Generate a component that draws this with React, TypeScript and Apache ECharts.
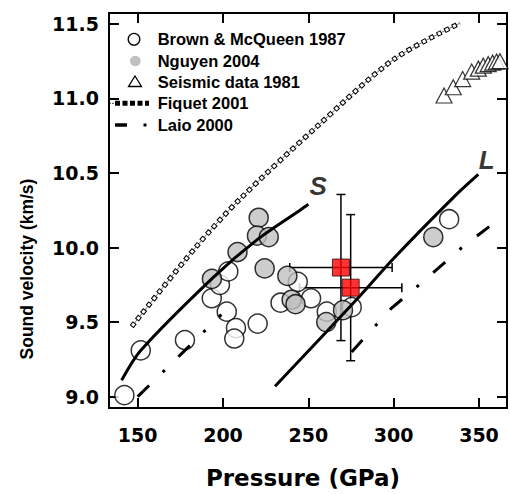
import React, { useEffect, useRef } from 'react';
import * as echarts from 'echarts';

const xTicks = [150, 200, 250, 300, 350];
const yTicks = [9.0, 9.5, 10.0, 10.5, 11.0, 11.5];

const brownMcQueen1987: number[][] = [
  [142.2, 9.01], [151.8, 9.31], [177.7, 9.38], [193.4, 9.66], [198.2, 9.75],
  [203.1, 9.84], [202.2, 9.57], [207.6, 9.46], [206.6, 9.39], [220.3, 9.49],
  [233.7, 9.63], [243.8, 9.77], [251.6, 9.66], [260.8, 9.57], [275.4, 9.6],
  [332.5, 10.19],
];
const nguyen2004: number[][] = [
  [193.5, 9.79], [208.5, 9.97], [220.9, 10.2], [219.9, 10.08], [226.8, 10.07],
  [224.4, 9.86], [237.7, 9.81], [240.2, 9.65], [242.5, 9.62], [260.5, 9.5],
  [270.3, 9.58], [323.2, 10.07],
];
const seismic1981: number[][] = [
  [329.5, 11.02], [334.9, 11.075], [340.4, 11.13], [345.7, 11.18], [349.6, 11.2],
  [352.5, 11.22], [355.4, 11.23], [358.0, 11.24], [360.3, 11.247], [362.3, 11.25],
];
const fiquet2001: number[][] = [
  [146.5, 9.47], [184.6, 10.01], [209.9, 10.325], [254.9, 10.81], [299.8, 11.26], [338.9, 11.505],
];
const laio2000Low: number[][] = [[150, 9.0], [175, 9.28], [199, 9.55]];
const laio2000High: number[][] = [[275.4, 9.3], [298.4, 9.59], [314.4, 9.745], [339.9, 10.0], [356, 10.14]];
const curveS: number[][] = [[140.6, 9.11], [151.8, 9.31], [194.3, 9.8], [219.7, 10.05], [245.1, 10.25], [250, 10.29]];
const curveL: number[][] = [[230.5, 9.07], [280.2, 9.675], [299.8, 9.925], [334.9, 10.335], [349.6, 10.49]];
const thisWork: number[][] = [[269.1, 9.866], [274.8, 9.731]];
const thisWorkErrP = [30, 30];
const thisWorkErrV = [0.49, 0.49];
const curveLabels = [
  { name: 'S', value: [255.8, 10.413] },
  { name: 'L', value: [354.5, 10.589] },
];
const legendLabels = ['Brown & McQueen 1987', 'Nguyen 2004', 'Seismic data 1981', 'Fiquet 2001', 'Laio 2000'];
const xTitle = 'Pressure (GPa)';
const yTitle = 'Sound velocity (km/s)';

const AX = '"DejaVu Sans", sans-serif';
const LG = '"Liberation Sans", Arial, sans-serif';

export default function App() {
  const ref = useRef<HTMLDivElement>(null);
  useEffect(() => {
    const chart = echarts.init(ref.current!, null, { renderer: 'svg' });
    const axisLine = { show: true, onZero: false, lineStyle: { color: '#000', width: 2 } };
    const tickStyle = { lineStyle: { color: '#000', width: 2 } };
    const xr = { min: 133.2, max: 366.4 };
    const yr = { min: 8.924, max: 11.573 };
    const errData = thisWork.map((p, i) => [p[0], p[1], thisWorkErrP[i], thisWorkErrV[i]]);
    const legendY = [39.3, 61, 82, 103.3, 125];
    chart.setOption({
      animation: false,
      backgroundColor: '#fff',
      grid: { left: 109, right: 3, top: 13, bottom: 80.5 },
      xAxis: [
        {
          type: 'value', ...xr, position: 'bottom', axisLine,
          axisTick: { show: true, inside: true, length: 10, customValues: xTicks, ...tickStyle },
          axisLabel: {
            customValues: xTicks, margin: 17, color: '#000', fontFamily: AX, fontSize: 19, fontWeight: 'bold',
            formatter: (v: number) => String(v),
          },
          splitLine: { show: false },
          name: xTitle, nameLocation: 'middle', nameGap: 58,
          nameTextStyle: { color: '#000', fontFamily: AX, fontSize: 23, fontWeight: 'bold', padding: [0, 10, 0, 0] },
        },
        {
          type: 'value', ...xr, position: 'top', axisLine,
          axisTick: { show: true, inside: true, length: 10, customValues: xTicks, ...tickStyle },
          axisLabel: { show: false }, splitLine: { show: false },
        },
      ],
      yAxis: [
        {
          type: 'value', ...yr, position: 'left', axisLine,
          axisTick: { show: true, inside: true, length: 10, customValues: yTicks, ...tickStyle },
          axisLabel: {
            customValues: yTicks, margin: 10, color: '#000', fontFamily: AX, fontSize: 19, fontWeight: 'bold',
            formatter: (v: number) => v.toFixed(1),
          },
          splitLine: { show: false },
        },
        {
          type: 'value', ...yr, position: 'right', axisLine,
          axisTick: { show: true, inside: true, length: 10, customValues: yTicks, ...tickStyle },
          axisLabel: { show: false }, splitLine: { show: false },
        },
      ],
      series: [
        {
          type: 'line', data: laio2000Low, showSymbol: false, symbol: 'none',
          lineStyle: { color: '#000', width: 3, type: [16, 19, 3, 19], cap: 'butt' },
        },
        {
          type: 'line', data: laio2000High, showSymbol: false, symbol: 'none',
          lineStyle: { color: '#000', width: 3, type: [16, 19, 3, 19], cap: 'butt' },
        },
        {
          type: 'line', data: fiquet2001, showSymbol: false, symbol: 'none', smooth: 0.3,
          lineStyle: { color: '#444', width: 0.8 },
        },
        {
          type: 'line', data: fiquet2001, showSymbol: false, symbol: 'none', smooth: 0.3,
          lineStyle: { color: '#000', width: 5, type: [5, 3.5], cap: 'butt' },
        },
        {
          type: 'line', data: fiquet2001, showSymbol: false, symbol: 'none', smooth: 0.3,
          lineStyle: { color: '#fff', width: 3, type: [3, 5.5], dashOffset: -1, cap: 'butt' },
        },
        {
          type: 'scatter', data: brownMcQueen1987, symbol: 'circle', symbolSize: 19,
          itemStyle: { color: '#fff', borderColor: '#000', borderWidth: 1.5 },
        },
        {
          type: 'scatter', data: nguyen2004, symbol: 'circle', symbolSize: 19,
          itemStyle: { color: '#c0c0c0', borderColor: '#000', borderWidth: 1.5 },
        },
        {
          type: 'scatter', data: seismic1981, symbol: 'triangle', symbolSize: [16, 15],
          itemStyle: { color: '#fff', borderColor: '#000', borderWidth: 1.2 },
        },
        {
          type: 'line', data: curveS, showSymbol: false, symbol: 'none', smooth: 0.3,
          lineStyle: { color: '#000', width: 3 },
        },
        {
          type: 'line', data: curveL, showSymbol: false, symbol: 'none', smooth: 0.3,
          lineStyle: { color: '#000', width: 3 },
        },
        {
          type: 'custom', data: errData,
          renderItem: (params: any, api: any) => {
            const x = api.value(0), y = api.value(1), ex = api.value(2), ey = api.value(3);
            const l = api.coord([x - ex, y]);
            const r = api.coord([x + ex, y]);
            const t = api.coord([x, y + ey]);
            const b = api.coord([x, y - ey]);
            const cap = 4.5;
            const st = { stroke: '#000', lineWidth: 1.5 };
            return {
              type: 'group',
              children: [
                { type: 'line', shape: { x1: l[0], y1: l[1], x2: r[0], y2: r[1] }, style: st },
                { type: 'line', shape: { x1: l[0], y1: l[1] - cap, x2: l[0], y2: l[1] + cap }, style: st },
                { type: 'line', shape: { x1: r[0], y1: r[1] - cap, x2: r[0], y2: r[1] + cap }, style: st },
                { type: 'line', shape: { x1: t[0], y1: t[1], x2: b[0], y2: b[1] }, style: st },
                { type: 'line', shape: { x1: t[0] - cap, y1: t[1], x2: t[0] + cap, y2: t[1] }, style: st },
                { type: 'line', shape: { x1: b[0] - cap, y1: b[1], x2: b[0] + cap, y2: b[1] }, style: st },
              ],
            };
          },
        },
        {
          type: 'scatter', data: thisWork, symbol: 'rect', symbolSize: 17,
          itemStyle: { color: '#ff0000', borderColor: '#300', borderWidth: 1 },
        },
        {
          type: 'scatter', data: curveLabels, symbolSize: 1,
          itemStyle: { color: 'rgba(0,0,0,0)' },
          label: {
            show: true, position: 'inside', formatter: (p: any) => p.name, color: '#000',
            fontFamily: LG, fontSize: 26, fontWeight: 'bold', fontStyle: 'italic',
          },
        },
      ],
      graphic: [
        {
          type: 'text', x: 27, y: 269, rotation: Math.PI / 2,
          style: { text: yTitle, fill: '#000', font: `bold 17.5px ${LG}`, align: 'center', verticalAlign: 'middle' },
        },
        { type: 'circle', shape: { cx: 134, cy: legendY[0], r: 5.8 }, style: { fill: '#fff', stroke: '#000', lineWidth: 1.3 } },
        { type: 'circle', shape: { cx: 135.3, cy: legendY[1], r: 5.3 }, style: { fill: '#c0c0c0' } },
        { type: 'polygon', shape: { points: [[135, legendY[2] - 6], [141.5, legendY[2] + 4.5], [128.5, legendY[2] + 4.5]] }, style: { fill: '#fff', stroke: '#000', lineWidth: 1.3 } },
        { type: 'line', shape: { x1: 109, y1: legendY[3], x2: 115, y2: legendY[3] }, style: { stroke: '#444', lineWidth: 1, lineDash: [2, 1] } },
        { type: 'line', shape: { x1: 115, y1: legendY[3], x2: 149, y2: legendY[3] }, style: { stroke: '#000', lineWidth: 5, lineDash: [5, 2.5] } },
        { type: 'line', shape: { x1: 115, y1: legendY[4], x2: 127, y2: legendY[4] }, style: { stroke: '#000', lineWidth: 3.5 } },
        { type: 'rect', shape: { x: 143.5, y: legendY[4] - 1.5, width: 3, height: 3 }, style: { fill: '#000' } },
        ...legendLabels.map((t, i) => ({
          type: 'text', x: 157.7, y: legendY[i],
          style: { text: t, fill: '#000', font: `bold 16.5px ${LG}`, align: 'left', verticalAlign: 'middle' },
        })),
      ],
    });
    return () => chart.dispose();
  }, []);
  return <div ref={ref} style={{ position: 'fixed', left: 0, top: 0, width: 510, height: 494, background: '#fff' }} />;
}
